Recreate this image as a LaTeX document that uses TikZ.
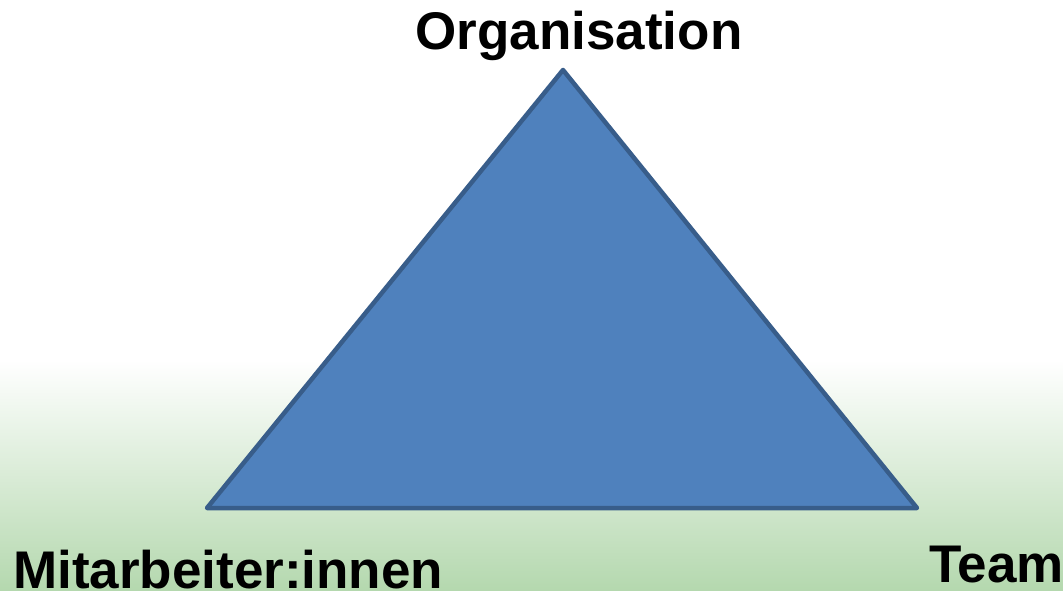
\documentclass[tikz,border=0pt]{standalone}
\usepackage{fontspec}
\setmainfont{Liberation Sans}
\definecolor{trifill}{RGB}{79,129,189}
\definecolor{triedge}{RGB}{56,93,138}
\definecolor{bggreen}{RGB}{180,216,174}
\tikzset{
  lbl/.style={font=\bfseries\fontsize{53}{60}\selectfont, inner sep=0pt, text=black},
  tri/.style={fill=trifill, draw=triedge, line width=4.5pt, line join=round}
}
\begin{document}
\begin{tikzpicture}[x=1pt,y=-1pt]
\useasboundingbox (0,0) rectangle (1063,591);
\fill[white] (0,0) rectangle (1063,360);
\shade[top color=white, bottom color=bggreen] (0,360) rectangle (1063,591);
\coordinate (A) at (563,70);
\coordinate (B) at (207,508);
\coordinate (C) at (917,508);
\draw[tri] (A) -- (B) -- (C) -- cycle;
\node[lbl, anchor=base] (org) at (579,50) {Organisation};
\node[lbl, anchor=base west] (mit) at (13,588) {Mitarbeiter:innen};
\node[lbl, anchor=base west] (team) at (929,582) {Team};
\end{tikzpicture}
\end{document}
